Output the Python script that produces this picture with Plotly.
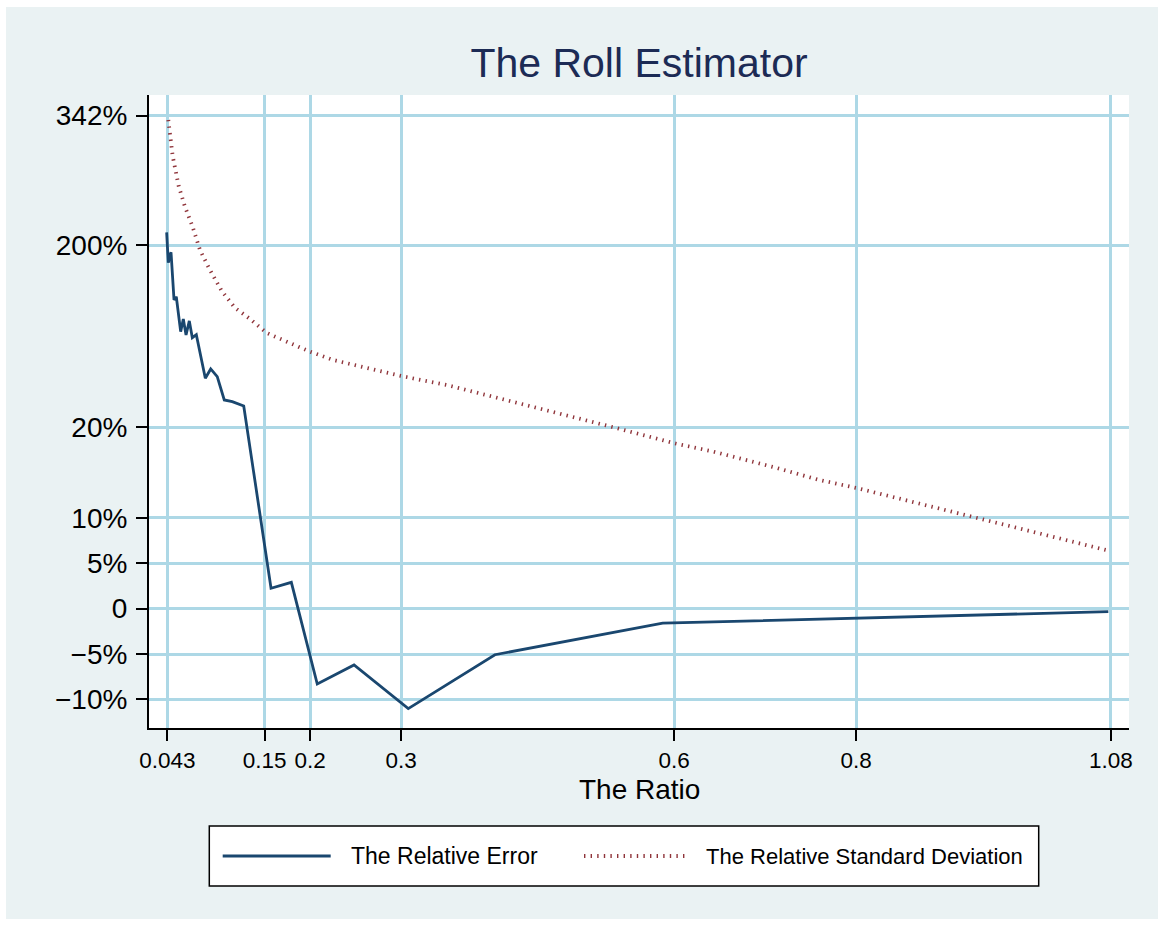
import numpy as np
import plotly.graph_objects as go

# ---------------- data ----------------
ratio_err = [0.0423, 0.0441, 0.0471, 0.0504, 0.0529, 0.0577, 0.0606, 0.0636, 0.0672,
             0.0705, 0.0749, 0.0848, 0.0907, 0.0979, 0.1056, 0.1144, 0.1270, 0.1570,
             0.1793, 0.2078, 0.2482, 0.3078, 0.4030, 0.5874, 1.0771]
rel_err_pct = [214.4, 183.0, 193.3, 146.0, 149.2, 114.6, 127.1, 111.3, 125.2,
               108.6, 111.6, 68.4, 77.6, 70.0, 46.9, 45.2, 40.9, 2.25,
               2.9, -8.3, -6.2, -11.0, -5.07, -1.6, -0.33]

ratio_sd = [0.0441, 0.0489, 0.0555, 0.0625, 0.0709, 0.0789, 0.0899, 0.1028, 0.1174,
            0.1339, 0.1522, 0.1742, 0.1998, 0.2254, 0.2621, 0.2995, 0.3500, 0.4232,
            0.4965, 0.5331, 0.6009, 0.6430, 0.7127, 0.7584, 0.8001, 0.9287, 1.0771]
rel_sd_pct = [337.3, 297.9, 265.0, 242.1, 220.3, 195.5, 175.7, 154.9, 138.1,
              127.2, 113.3, 104.4, 94.7, 86.5, 78.3, 70.7, 61.7, 45.2,
              28.0, 19.98, 18.2, 17.3, 15.5, 14.2, 13.3, 10.1, 6.4]

# the chart's y axis is piecewise (labels at uneven positions)
y_tick_pct = [-10, -5, 0, 5, 10, 20, 200, 342]
y_tick_pos = [-1, -0.5, 0, 0.5, 1, 2, 4, 5.43]
y_tick_text = ["\u221210%", "\u22125%", "0", "5%", "10%", "20%", "200%", "342%"]

x_tick_vals = [0.043, 0.15, 0.2, 0.3, 0.6, 0.8, 1.08]
x_tick_text = ["0.043", "0.15", "0.2", "0.3", "0.6", "0.8", "1.08"]


def to_pos(p):
    p = np.asarray(p, dtype=float)
    inner = np.interp(p, y_tick_pct, y_tick_pos)
    # linear (10% per unit) below the lowest tick
    return np.where(p < y_tick_pct[0], p / 10.0, inner)


NAVY = "#1A476F"
MAROON = "#90353B"
GRID = "#ADD8E6"
BG = "#EAF2F3"
FONT = "Liberation Sans, Arial, sans-serif"

fig = go.Figure()
fig.add_trace(go.Scatter(x=ratio_err, y=to_pos(rel_err_pct), mode="lines",
                         line=dict(color=NAVY, width=2.8),
                         name="The Relative Error", showlegend=False))
fig.add_trace(go.Scatter(x=ratio_sd, y=to_pos(rel_sd_pct), mode="lines",
                         line=dict(color=MAROON, width=3.8, dash="1.4px,5.2px"),
                         name="The Relative Standard Deviation", showlegend=False))

# plot area in pixels: left 149, right 1129, top 95, bottom 728
L, R, T, B = 149, 1129, 95, 728
W, H = 1158, 925


def px(xp):
    return (xp - L) / (R - L)


def py(yp):
    return (B - yp) / (B - T)


shapes = [
    dict(type="rect", xref="paper", yref="paper", x0=px(6), x1=px(1158), y0=py(919), y1=py(7),
         fillcolor=BG, line=dict(width=0), layer="below"),
    dict(type="rect", xref="paper", yref="paper", x0=0, x1=1, y0=0, y1=1,
         fillcolor="white", line=dict(width=0), layer="below"),
    # legend box
    dict(type="rect", xref="paper", yref="paper", x0=px(209.3), x1=px(1038.7), y0=py(886), y1=py(826),
         fillcolor="white", line=dict(color="black", width=1.5)),
    dict(type="line", xref="paper", yref="paper", x0=px(222.7), x1=px(330.7), y0=py(856), y1=py(856),
         line=dict(color=NAVY, width=2.8)),
    dict(type="line", xref="paper", yref="paper", x0=px(584), x1=px(688.3), y0=py(856), y1=py(856),
         line=dict(color=MAROON, width=3.8, dash="1.4px,5.2px")),
]

annotations = [
    dict(text="The Ratio", xref="paper", yref="paper", x=0.5, y=py(789), xanchor="center",
         yanchor="middle", showarrow=False, font=dict(family=FONT, size=28, color="black")),
    dict(text="The Relative Error", xref="paper", yref="paper", x=px(349), y=py(856),
         xanchor="left", yanchor="middle", showarrow=False,
         font=dict(family=FONT, size=23, color="black")),
    dict(text="The Relative Standard Deviation", xref="paper", yref="paper", x=px(704), y=py(856),
         xanchor="left", yanchor="middle", showarrow=False,
         font=dict(family=FONT, size=22, color="black")),
]

fig.update_layout(
    width=W, height=H, autosize=False,
    margin=dict(l=L, r=W - R, t=T, b=H - B, pad=0),
    paper_bgcolor="white", plot_bgcolor="white",
    title=dict(text="The Roll Estimator", x=0.5, xref="paper", xanchor="center",
               y=1 - 62.7 / H, yref="container", yanchor="middle",
               font=dict(family=FONT, size=41, color="#1C2B55")),
    font=dict(family=FONT, color="black"),
    shapes=shapes, annotations=annotations, showlegend=False,
    xaxis=dict(range=[0.0229, 1.0998], tickmode="array", tickvals=x_tick_vals, ticktext=x_tick_text,
               ticks="outside", ticklen=11, tickwidth=1.5, tickcolor="black",
               showline=True, linecolor="black", linewidth=2,
               showgrid=True, gridcolor=GRID, gridwidth=3, zeroline=False,
               tickfont=dict(family=FONT, size=22.5, color="black")),
    yaxis=dict(range=[-1.314, 5.657], tickmode="array", tickvals=list(to_pos(y_tick_pct)),
               ticktext=y_tick_text, ticks="outside", ticklen=11, tickwidth=1.5, tickcolor="black",
               showline=True, linecolor="black", linewidth=2,
               showgrid=True, gridcolor=GRID, gridwidth=3, zeroline=False,
               ticklabelstandoff=3,
               tickfont=dict(family=FONT, size=28, color="black")),
)

fig.write_html("out.html")
